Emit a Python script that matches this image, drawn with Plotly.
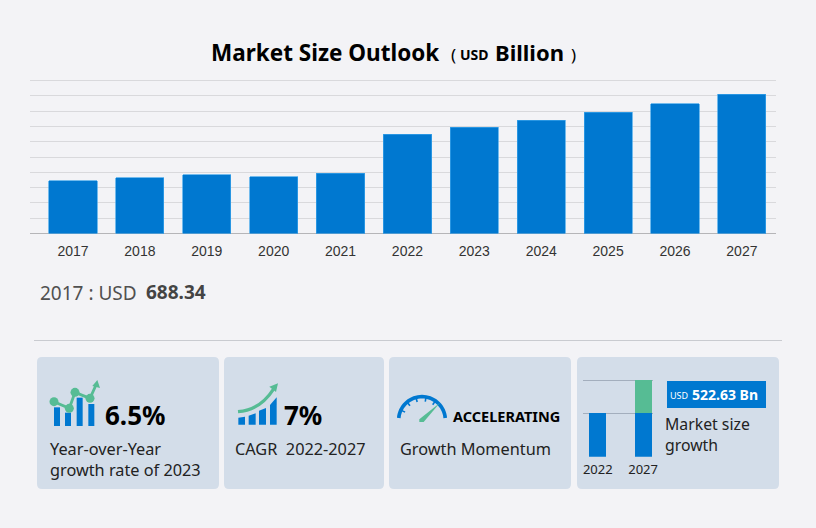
import math
import plotly.graph_objects as go

years = ["2017","2018","2019","2020","2021","2022","2023","2024","2025","2026","2027"]
market_size = [688.34,727,766,745,788,1298,1390,1481,1586,1697,1820.63]
grid_values = [0,200,400,600,800,1000,1200,1400,1600,1800,2000]
mini_years = ["2022","2027"]
mini_base = [1298,1298]
mini_growth = [0,1000]

W, H = 816, 528
BLUE = "#0078d0"; GREEN = "#56bc94"; CARD = "#d3dde9"; BG = "#f3f3f6"
FONT = "Noto Sans"

def X(x): return x / W
def Y(y): return 1 - y / H
def dom(a, b, n): return [a / n, b / n]
def P(x, y): return f"{X(x):.5f},{Y(y):.5f}"

shapes, annos = [], []

def path(cmds, fill=None, line=None, width=0, layer="above"):
    d = ""
    for c in cmds:
        if c == "Z":
            d += "Z "
        else:
            d += c[0] + " " + " ".join(P(c[i], c[i+1]) for i in range(1, len(c), 2)) + " "
    shapes.append(dict(type="path", path=d, xref="paper", yref="paper", layer=layer,
                       fillcolor=fill if fill else "rgba(0,0,0,0)",
                       line=dict(color=line if line else "rgba(0,0,0,0)", width=width)))

def rrect(x0, y0, x1, y1, r, fill):
    path([("M", x0+r, y0), ("L", x1-r, y0), ("Q", x1, y0, x1, y0+r), ("L", x1, y1-r), ("Q", x1, y1, x1-r, y1),
          ("L", x0+r, y1), ("Q", x0, y1, x0, y1-r), ("L", x0, y0+r), ("Q", x0, y0, x0+r, y0), "Z"],
         fill=fill, layer="below")

def box(x0, y0, x1, y1, fill, layer="above"):
    path([("M", x0, y0), ("L", x1, y0), ("L", x1, y1), ("L", x0, y1), "Z"], fill=fill, layer=layer)

def dot(x, y, r, fill):
    shapes.append(dict(type="circle", xref="paper", yref="paper", x0=X(x-r), x1=X(x+r), y0=Y(y-r), y1=Y(y+r),
                       fillcolor=fill, line=dict(width=0)))

def text(x, y, s, size, color="#222222", bold=False, family=FONT, anchor="left"):
    annos.append(dict(xref="paper", yref="paper", x=X(x), y=Y(y), text=f"<b>{s}</b>" if bold else s,
                      showarrow=False, xanchor=anchor, align="left", yanchor="middle", borderpad=0,
                      font=dict(size=size, color=color, family=family)))

# cards and separator
for a, b in [(37,219),(224,384),(389,571),(577,779)]:
    rrect(a, 357, b, 489, 5, CARD)
path([("M", 34, 340.5), ("L", 782, 340.5)], line="#c9cbd0", width=1, layer="below")

# zoom-derived icon helpers
z1 = lambda zx, zy: (30 + zx/3, 350 + zy/3)
z2 = lambda zx, zy: (385 + zx/3, 350 + zy/3)

# icon 1
for a, b, t in [(72,90,172),(105,123,188),(140,158,143),(175,193,162)]:
    box(*z1(a,t), *z1(b,228), BLUE)
pts = [z1(72,155), z1(118,175), z1(135,127), z1(180,145), z1(198,105)]
path([("M", *pts[0])] + [("L", *p) for p in pts[1:]], line=GREEN, width=2.8)
for p in pts[:4]:
    dot(p[0], p[1], 4.5, GREEN)
path([("M", *z1(202,90)), ("L", *z1(210,114)), ("L", *z1(187,108)), "Z"], fill=GREEN)

# icon 2
path([("M", *z1(625,203)), ("L", *z1(645,200)), ("L", *z1(645,224)), ("L", *z1(625,224)), "Z"], fill=BLUE)
path([("M", *z1(656,197)), ("L", *z1(677,190)), ("L", *z1(677,224)), ("L", *z1(656,224)), "Z"], fill=BLUE)
path([("M", *z1(687,182)), ("L", *z1(708,174)), ("L", *z1(708,224)), ("L", *z1(687,224)), "Z"], fill=BLUE)
path([("M", *z1(720,165)), ("L", *z1(740,142)), ("L", *z1(740,224)), ("L", *z1(720,224)), "Z"], fill=BLUE)
path([("M", *z1(624,185)), ("Q", *z1(690,180), *z1(730,118))], line=GREEN, width=3.2)
path([("M", *z1(744,100)), ("L", *z1(738,126)), ("L", *z1(718,110)), "Z"], fill=GREEN)

# icon 3: gauge
cx, cy, rad = 111, 210, 70
arc = []
for deg in range(175, 4, -5):
    a = math.radians(deg)
    arc.append(z2(cx + rad*math.cos(a), cy - rad*math.sin(a)))
path([("M", *arc[0])] + [("L", *p) for p in arc[1:]], line=BLUE, width=3.7)
for deg in (155, 130, 105, 80, 55):
    a = math.radians(deg)
    p0 = z2(cx + rad*math.cos(a), cy - rad*math.sin(a))
    p1 = z2(cx + (rad-14)*math.cos(a), cy - (rad-14)*math.sin(a))
    path([("M", *p0), ("L", *p1)], line=BLUE, width=1.6)
path([("M", *z2(165,158)), ("L", *z2(116,216)), ("L", *z2(103,216)), ("L", *z2(103,208)), "Z"], fill=GREEN)

# card 4 label box
box(*z2(846,93), *z2(1143,174), BLUE)

# texts
text(209.5, 52, "Market Size Outlook", 22.5, "#000000", True)
text(450, 54, "(", 17, "#000000")
text(458.5, 55, "USD", 14, "#000000", True)
text(494, 52, "Billion", 22, "#000000", True)
text(570, 54, ")", 17, "#000000")
text(39, 293, "2017 : USD", 19, "#505050")
text(144.5, 292, "688.34", 19, "#444444", True)
text(103.5, 415, "6.5%", 26, "#000000", True)
text(49, 459, "Year-over-Year<br>growth rate of 2023", 16.3, "#222222")
text(282.5, 415, "7%", 26, "#000000", True)
text(234, 449, "CAGR&nbsp;&nbsp;2022-2027", 16.3, "#222222")
text(452, 416, "ACCELERATING", 14.5, "#000000", True)
text(399, 449, "Growth Momentum", 16.3, "#222222")
text(669, 395.5, "USD", 9, "#ffffff")
text(691, 394, "522.63 Bn", 14, "#ffffff", True)
text(664, 434, "Market size<br>growth", 15.8, "#222222")

fig = go.Figure()
fig.add_bar(x=years, y=market_size, width=0.72, marker=dict(color=BLUE, line=dict(color="#3aa3ea", width=0.7)),
            xaxis="x", yaxis="y", showlegend=False)
fig.add_bar(x=mini_years, y=mini_base, width=0.375, marker=dict(color=BLUE, line=dict(width=0)),
            xaxis="x2", yaxis="y2", showlegend=False)
fig.add_bar(x=mini_years, y=mini_growth, width=0.375, marker=dict(color=GREEN, line=dict(width=0)),
            xaxis="x2", yaxis="y2", showlegend=False)

mini_top = mini_base[0] + mini_growth[1]
fig.update_layout(
    width=W, height=H, autosize=False, margin=dict(l=0, r=0, t=0, b=0, pad=0, autoexpand=False),
    paper_bgcolor=BG, plot_bgcolor="rgba(0,0,0,0)", barmode="stack", showlegend=False,
    shapes=shapes, annotations=annos,
    xaxis=dict(domain=dom(30, 776, W), anchor="y", type="category", range=[-0.643, 10.51],
               tickvals=years, ticktext=years, showgrid=False, zeroline=False, showline=False,
               ticks="outside", ticklen=5, tickcolor="rgba(0,0,0,0)",
               tickfont=dict(family="Liberation Sans", size=14, color="#333333")),
    yaxis=dict(domain=[1 - 233.5/H, 1 - 78.97/H], anchor="x", range=[0, 2020], tickvals=grid_values,
               showticklabels=False, gridcolor="#d9d9dc", gridwidth=1, zeroline=True, zerolinecolor="#b5b5b8",
               zerolinewidth=1, showline=False, ticks=""),
    xaxis2=dict(domain=dom(583.3, 653.3, W), anchor="y2", type="category", range=[-0.32, 1.225],
                tickvals=mini_years, ticktext=mini_years, showgrid=False, zeroline=False, showline=False,
                ticks="outside", ticklen=1, tickcolor="rgba(0,0,0,0)",
                tickfont=dict(family=FONT, size=13, color="#222222")),
    yaxis2=dict(domain=[1 - 456.7/H, 1 - 376.7/H], anchor="x2", range=[0, mini_top + 100],
                tickvals=[mini_base[0], mini_top], showticklabels=False, gridcolor="#a3aebd", gridwidth=1,
                zeroline=False, showline=False, ticks=""),
)
fig.write_html("out.html", default_width="816px", default_height="528px",
               config={"responsive": False, "displayModeBar": False},
               post_script="document.documentElement.style.background='%s';document.body.style.margin='0';document.body.style.overflow='hidden';" % BG)
